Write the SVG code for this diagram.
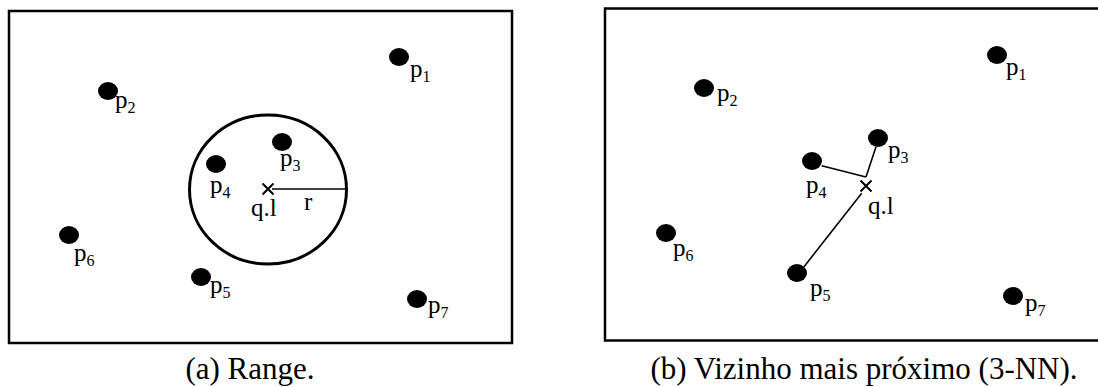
<svg xmlns="http://www.w3.org/2000/svg" width="1098" height="387" viewBox="0 0 1098 387">
<style>
.frame{fill:none;stroke:#000;stroke-width:2.5}
.dot{fill:#000}
.lbl{font-family:'Liberation Serif','DejaVu Serif',serif;font-size:25px;fill:#000}
.sub{font-size:16px}
.cap{font-family:'Liberation Serif','DejaVu Serif',serif;font-size:31px;fill:#000;text-anchor:middle}
.mark{stroke:#000;stroke-width:2;fill:none}
.conn{stroke:#000;stroke-width:1.6;fill:none}
</style>
<rect width="1098" height="387" fill="#fff"/>
<!-- Panel (a) -->
<g id="panel-a">
  <rect class="frame" x="9" y="11" width="503" height="332"/>
  <ellipse id="range-circle" cx="268" cy="189.5" rx="78.5" ry="74.5" fill="none" stroke="#000" stroke-width="3"/>
</g>
<g id="a-connectors">
  <line class="conn" x1="272" y1="189" x2="346" y2="189" stroke-width="2"/>
</g>
<g id="a-p1"><ellipse class="dot" cx="399" cy="57" rx="10" ry="9"/><text class="lbl" font-family="Liberation Serif, serif" x="410" y="77">p<tspan class="sub" dy="5">1</tspan></text></g>
<g id="a-p2"><ellipse class="dot" cx="108" cy="91" rx="10" ry="9"/><text class="lbl" font-family="Liberation Serif, serif" x="115" y="108">p<tspan class="sub" dy="5">2</tspan></text></g>
<g id="a-p3"><ellipse class="dot" cx="282" cy="142" rx="10" ry="9"/><text class="lbl" font-family="Liberation Serif, serif" x="280" y="166">p<tspan class="sub" dy="5">3</tspan></text></g>
<g id="a-p4"><ellipse class="dot" cx="216" cy="164" rx="10" ry="9"/><text class="lbl" font-family="Liberation Serif, serif" x="210" y="193">p<tspan class="sub" dy="5">4</tspan></text></g>
<g id="a-p5"><ellipse class="dot" cx="201" cy="277" rx="10" ry="9"/><text class="lbl" font-family="Liberation Serif, serif" x="210" y="292.5">p<tspan class="sub" dy="5">5</tspan></text></g>
<g id="a-p6"><ellipse class="dot" cx="69" cy="235" rx="10" ry="9"/><text class="lbl" font-family="Liberation Serif, serif" x="74" y="261">p<tspan class="sub" dy="5">6</tspan></text></g>
<g id="a-p7"><ellipse class="dot" cx="417" cy="299" rx="10" ry="9"/><text class="lbl" font-family="Liberation Serif, serif" x="428" y="312.5">p<tspan class="sub" dy="5">7</tspan></text></g>
<g id="a-query">
  <path class="mark" d="M262.5 183.5 L273.5 194.5 M273.5 183.5 L262.5 194.5"/>
  <text class="lbl" font-family="Liberation Serif, serif" x="251" y="216" font-size="22">q.l</text>
  <text class="lbl" font-family="Liberation Serif, serif" x="304" y="210" font-size="32">r</text>
</g>
<text class="cap" font-family="Liberation Serif, serif" x="250" y="379">(a) Range.</text>

<!-- Panel (b) -->
<g id="panel-b">
  <rect class="frame" x="605" y="8.5" width="520" height="332"/>
</g>
<g id="b-connectors">
  <line class="conn" x1="821.7" y1="165.7" x2="866" y2="177"/>
  <line class="conn" x1="876" y1="146.7" x2="866" y2="177"/>
  <line class="conn" x1="861.7" y1="193.3" x2="804" y2="266.7"/>
</g>
<g id="b-p1"><ellipse class="dot" cx="997" cy="55" rx="10" ry="9"/><text class="lbl" font-family="Liberation Serif, serif" x="1006" y="74.5">p<tspan class="sub" dy="5">1</tspan></text></g>
<g id="b-p2"><ellipse class="dot" cx="704" cy="88" rx="10" ry="9"/><text class="lbl" font-family="Liberation Serif, serif" x="717" y="101">p<tspan class="sub" dy="5">2</tspan></text></g>
<g id="b-p3"><ellipse class="dot" cx="878" cy="138" rx="10" ry="9"/><text class="lbl" font-family="Liberation Serif, serif" x="888" y="157.5">p<tspan class="sub" dy="5">3</tspan></text></g>
<g id="b-p4"><ellipse class="dot" cx="812" cy="161" rx="10" ry="9"/><text class="lbl" font-family="Liberation Serif, serif" x="806" y="192.5">p<tspan class="sub" dy="5">4</tspan></text></g>
<g id="b-p5"><ellipse class="dot" cx="797" cy="273" rx="10" ry="9"/><text class="lbl" font-family="Liberation Serif, serif" x="810" y="296">p<tspan class="sub" dy="5">5</tspan></text></g>
<g id="b-p6"><ellipse class="dot" cx="666" cy="233" rx="10" ry="9"/><text class="lbl" font-family="Liberation Serif, serif" x="673" y="256">p<tspan class="sub" dy="5">6</tspan></text></g>
<g id="b-p7"><ellipse class="dot" cx="1013" cy="296" rx="10" ry="9"/><text class="lbl" font-family="Liberation Serif, serif" x="1025" y="311">p<tspan class="sub" dy="5">7</tspan></text></g>
<g id="b-query">
  <path class="mark" d="M860.5 180.5 L871.5 191.5 M871.5 180.5 L860.5 191.5"/>
  <text class="lbl" font-family="Liberation Serif, serif" x="868" y="214" font-size="22">q.l</text>
</g>
<text class="cap" font-family="Liberation Serif, serif" x="864" y="379">(b) Vizinho mais próximo (3-NN).</text>
</svg>
